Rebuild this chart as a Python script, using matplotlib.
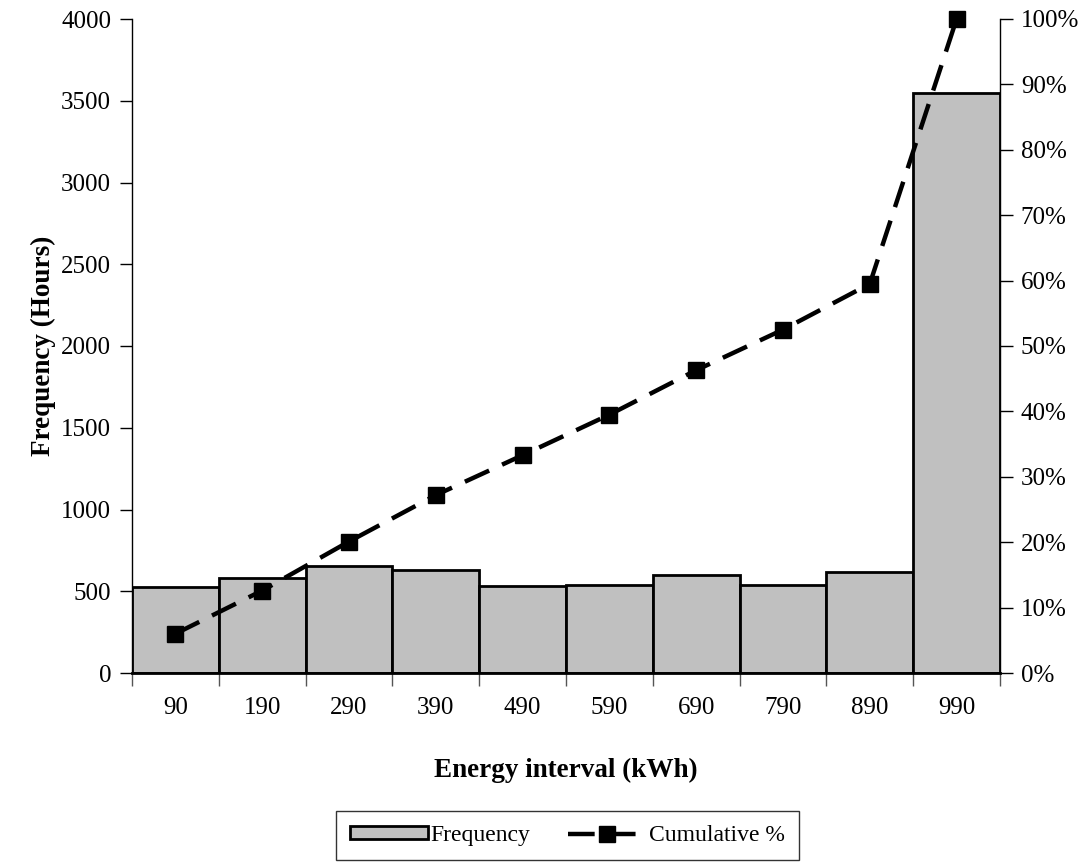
import matplotlib
matplotlib.use("Agg")
import matplotlib.pyplot as plt
import numpy as np
from matplotlib.ticker import FixedLocator, PercentFormatter

plt.rcParams["font.family"] = ["Liberation Serif", "DejaVu Serif"]

CATEGORIES = ["90", "190", "290", "390", "490", "590", "690", "790", "890", "990"]
FREQUENCY = [523, 578, 657, 628, 535, 541, 598, 541, 616, 3549]
CUMULATIVE_PCT = [6.0, 12.6, 20.1, 27.2, 33.3, 39.5, 46.3, 52.5, 59.5, 100.0]

BAR_GREY = "#C0C0C0"
INK = "#000000"

fig = plt.figure(figsize=(10.89, 8.65), dpi=100)
ax = fig.add_axes([132 / 1089, 1 - 673 / 865, 868 / 1089, 654 / 865])
ax2 = ax.twinx()

x = np.arange(len(CATEGORIES))
bars = ax.bar(x, FREQUENCY, width=1.0, color=BAR_GREY, edgecolor=INK, linewidth=2, zorder=2)
line, = ax2.plot(x, CUMULATIVE_PCT, color=INK, linewidth=3.2, dashes=(6, 3.2),
                 marker="s", markersize=11, clip_on=False, zorder=5)

ax.set_xlim(-0.5, len(CATEGORIES) - 0.5)
ax.set_ylim(0, 4000)
ax2.set_ylim(0, 100)

ax.set_zorder(1)
ax2.set_zorder(2)
ax.patch.set_visible(False)

# category axis: ticks between bars, labels centred under them
ax.xaxis.set_major_locator(FixedLocator(np.arange(-0.5, len(CATEGORIES))))
ax.set_xticklabels([""] * (len(CATEGORIES) + 1))
ax.set_xticks(x, CATEGORIES, minor=True)
ax.tick_params(axis="x", which="major", direction="out", length=9, width=1, color="#555555")
ax.tick_params(axis="x", which="minor", length=0, pad=17, labelsize=18)

ax.set_yticks(np.arange(0, 4001, 500))
ax.tick_params(axis="y", direction="out", length=9, width=1, labelsize=18, pad=6)
ax2.set_yticks(np.arange(0, 101, 10))
ax2.yaxis.set_major_formatter(PercentFormatter(decimals=0))
ax2.tick_params(axis="y", direction="out", length=9, width=1, labelsize=18, pad=6)

for a in (ax, ax2):
    a.spines["top"].set_visible(False)
ax2.spines["left"].set_visible(False)
ax2.spines["bottom"].set_visible(False)
ax.spines["right"].set_visible(False)
ax.spines["bottom"].set_linewidth(2)
ax.spines["left"].set_linewidth(1)
ax2.spines["right"].set_linewidth(1)

ax.set_ylabel("Frequency (Hours)", fontsize=19.5, fontweight="bold", labelpad=4)
ax.set_xlabel("Energy interval (kWh)", fontsize=19.5, fontweight="bold", labelpad=28)

leg = fig.legend([bars, line], ["Frequency", "Cumulative %"], loc="lower center",
                 bbox_to_anchor=(0.521, 0.0), ncol=2, fontsize=17, frameon=True,
                 fancybox=False, edgecolor=INK, handlelength=3.3, handleheight=0.5,
                 handletextpad=0.1, columnspacing=1.6, borderpad=0.6, borderaxespad=0.2)
leg.get_frame().set_linewidth(1)

fig.savefig("out.png", dpi=100)
